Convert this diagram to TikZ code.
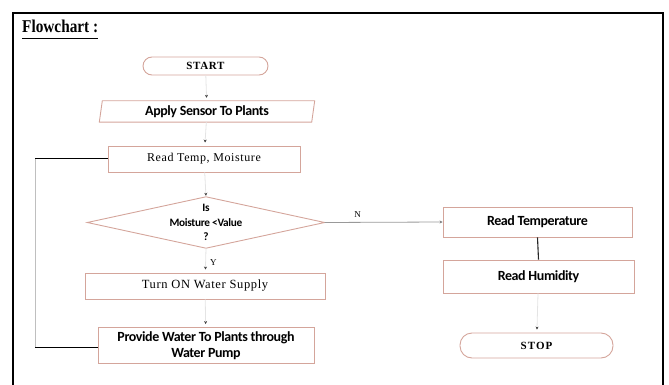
\documentclass[tikz,border=0pt]{standalone}
\usepackage{fontspec}
\usepackage{graphicx}
\setmainfont{Liberation Serif}
\newfontfamily\sansb[LetterSpace=-3]{Carlito}
\usetikzlibrary{arrows.meta}
\definecolor{boxc}{RGB}{212,165,155}
\definecolor{faint}{RGB}{228,228,228}
\tikzset{
  box/.style={draw=boxc, line width=0.9pt, rectangle, inner sep=0pt},
  pill/.style={draw=boxc, line width=0.9pt, rounded corners=9pt, inner sep=0pt},
  flow/.style={draw=faint, line width=0.8pt, shorten >=3pt,
    -{Stealth[length=3pt,width=3pt,black!75]}},
  sanstxt/.style={font=\sansb\bfseries\fontsize{14}{14}\selectfont},
  lbl/.style={font=\fontsize{9}{10}\selectfont, inner sep=0pt},
}
\begin{document}
\begin{tikzpicture}[x=1pt,y=-1pt]
\useasboundingbox (0,0) rectangle (669,385);
% frame
\draw[line width=2.2pt] (13,400) -- (13,13) -- (663,13) -- (663,400);
% title
\node[inner sep=0pt, anchor=west] (title) at (22,26)
  {\scalebox{0.85}[1]{\bfseries\fontsize{18}{20}\selectfont Flowchart :}};
\draw[line width=1.6pt] (22,38.5) -- (title.east |- 0,38.5);

% nodes
\node[pill, minimum width=125pt, minimum height=18pt,
  font=\bfseries\addfontfeatures{LetterSpace=6}\fontsize{11}{12}\selectfont] (start) at (205.5,66) {START};
\node[minimum width=212pt, minimum height=21pt, inner sep=0pt, sanstxt] (apply) at (207,111.5) {Apply Sensor To Plants};
\draw[boxc, line width=0.9pt] ([xshift=1.5pt]apply.north west) -- ([xshift=1.5pt]apply.north east)
  -- ([xshift=-1.5pt]apply.south east) -- ([xshift=-1.5pt]apply.south west) -- cycle;
\node[box, minimum width=192pt, minimum height=26pt,
  font=\addfontfeatures{LetterSpace=5}\fontsize{12}{14}\selectfont] (readtm) at (204,159) {Read Temp, Moisture};
\node[minimum width=237pt, minimum height=51pt, inner sep=0pt, align=center,
  font=\sansb\bfseries\fontsize{11.3}{14.5}\selectfont] (dec) at (206,222.5) {Is\\Moisture <Value\\?};
\draw[boxc, line width=0.9pt] (dec.north) -- (dec.east) -- (dec.south) -- (dec.west) -- cycle;
\node[box, minimum width=240pt, minimum height=26pt,
  font=\addfontfeatures{LetterSpace=5}\fontsize{12.5}{14}\selectfont] (turnon) at (205,286) {Turn ON Water Supply};
\node[box, minimum width=216pt, minimum height=36pt, align=center,
  font=\sansb\bfseries\fontsize{14}{16}\selectfont] (provide) at (206,345.5) {Provide Water To Plants through\\Water Pump};
\node[box, minimum width=189pt, minimum height=30pt, sanstxt] (readt) at (537.5,222) {Read Temperature};
\node[box, minimum width=191pt, minimum height=33pt, sanstxt] (readh) at (538.5,276.5) {Read Humidity};
\node[pill, minimum width=153pt, minimum height=25pt, rounded corners=12pt,
  font=\bfseries\addfontfeatures{LetterSpace=10}\fontsize{11}{12}\selectfont] (stop) at (536.5,345.5) {STOP};

% connectors
\draw[flow] (start) -- (apply);
\draw[flow] (apply) -- (readtm);
\draw[flow, shorten >=1pt] (readtm) -- (dec.north);
\draw[flow] (dec.south) -- node[lbl, black, right, pos=0.55, xshift=4pt, yshift=-1pt] {Y} (turnon);
\draw[flow] (turnon) -- (provide);
\draw[draw=black!40, line width=0.8pt, -{Stealth[length=3pt,width=3pt,black!50]}] (dec.east) -- node[lbl, above, pos=0.28, yshift=4pt] {N} (readt.west);
\draw[line width=1.1pt, black!85] (readt.south) -- (readh.north);
\draw[flow] (readh) -- (stop);
% loop back
\coordinate (lb) at (35,347);
\coordinate (lt) at (35,158);
\draw[line width=0.6pt] (provide.west |- lb) -- (lb);
\draw[line width=0.6pt, black!25] (lb) -- (lt);
\draw[line width=0.6pt] (lt) -- (readtm.west |- lt);
\end{tikzpicture}
\end{document}
